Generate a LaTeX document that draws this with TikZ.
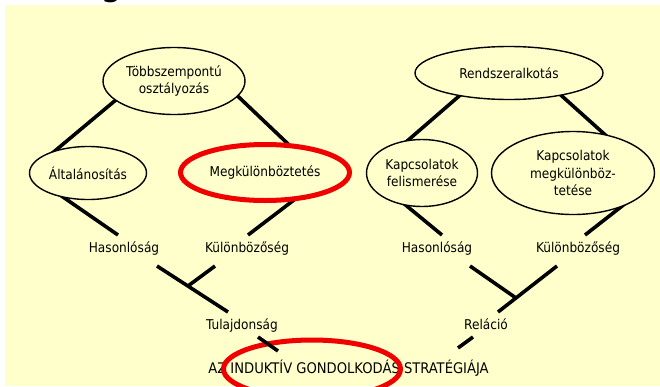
\documentclass[tikz,border=0pt]{standalone}
\usepackage{fontspec}
\setmainfont{DejaVu Sans Condensed}
\usetikzlibrary{shapes.geometric,calc}
\definecolor{bgy}{HTML}{FFFFCC}
\definecolor{hlred}{HTML}{F00000}
\pgfdeclarelayer{background}
\pgfsetlayers{background,main}
\newcommand\dfs{\fontsize{13.5}{17.5}\selectfont}
\begin{document}
\begin{tikzpicture}[x=1pt,y=-1pt,
  oval/.style={ellipse, draw=black, line width=1.4pt, fill=bgy, inner sep=0pt, align=center, font=\dfs},
  redoval/.style={ellipse, draw=hlred, line width=5pt, inner sep=0pt, align=center, font=\dfs},
  lbl/.style={inner sep=0pt, text height=10pt, text depth=3pt, font=\dfs},
  conn/.style={line width=3.6pt, black}]
\useasboundingbox (0,0) rectangle (660,386);
% cropped title fragment, covered by the yellow panel below y=5
\begin{pgfonlayer}{background}
\node[anchor=base, inner sep=0pt, font=\fontsize{40}{40}\selectfont] (gfrag) at (112,-5.5) {g};
\fill[bgy] (5,5) rectangle (660,386);
\end{pgfonlayer}
% left tree
\node[oval, minimum width=142pt, minimum height=67pt] (tobb) at (174,81) {Többszempontú\\osztályozás};
\node[oval, minimum width=117pt, minimum height=53pt] (alt) at (88,173) {Általánosítás};
\node[redoval, fill=bgy, minimum width=169pt, minimum height=56pt] (meg) at (265,172.5) {Megkülönböztetés};
\node[lbl] (has) at (124,249) {Hasonlóság};
\node[lbl] (kul) at (247,249) {Különbözőség};
\node[lbl] (tul) at (242,326) {Tulajdonság};
% right tree
\node[oval, minimum width=188pt, minimum height=53pt] (rend) at (509,73) {Rendszeralkotás};
\node[oval, minimum width=111pt, minimum height=67pt] (kf) at (422,173) {Kapcsolatok\\felismerése};
\node[oval, minimum width=163pt, minimum height=83pt] (km) at (573,173) {Kapcsolatok\\megkülönböz-\\tetése};
\node[lbl] (has2) at (437,249) {Hasonlóság};
\node[lbl] (kul2) at (578,249) {Különbözőség};
\node[lbl] (rel) at (486,326) {Reláció};
% title
\node[lbl, font=\fontsize{14.6}{17.5}\selectfont] (title) at (348.5,369.5) {AZ INDUKTÍV GONDOLKODÁS STRATÉGIÁJA};
\node[redoval, minimum width=177pt, minimum height=58pt] (hl) at (312,369) {};
% junctions
\coordinate (jl) at (188,286);
\coordinate (jr) at (516,298);
\begin{pgfonlayer}{background}
\draw[conn] ($(tobb)+(-40.5,4.2)$) -- ($(alt)+(-42.5,-14.2)$);
\draw[conn] ($(tobb)+(50.5,2.5)$) -- ($(meg)+(33.3,-18.8)$);
\draw[conn] ($(alt)+(-41.5,12.6)$) -- ($(has)+(-6,-14)$);
\draw[conn] ($(meg)+(37.6,20.9)$) -- ($(kul)+(1,-14)$);
\draw[conn] ($(has)+(33,17)$) -- ($(tul)+(-14,-14)$);
\draw[conn] ($(kul)+(-32,17)$) -- (jl);
\draw[conn] ($(rend)+(-35.4,10.5)$) -- ($(kf)+(-31.6,-17.5)$);
\draw[conn] ($(rend)+(42.3,13.5)$) -- ($(km)+(40.7,-30.5)$);
\draw[conn] ($(kf)+(-24.2,25.6)$) -- ($(has2)+(5,-14)$);
\draw[conn] ($(km)+(53.6,29.5)$) -- ($(kul2)+(7,-14)$);
\draw[conn] ($(kul2)+(-21,17)$) -- ($(rel)+(12,-14)$);
\draw[conn] ($(has2)+(33,17)$) -- (jr);
\draw[conn] ($(rel)+(-13,11)$) -- ($(rel)+(-28,22)$);
\end{pgfonlayer}
\draw[conn] ($(tul)+(16,11)$) -- ($(tul)+(36,25)$);
\end{tikzpicture}
\end{document}
